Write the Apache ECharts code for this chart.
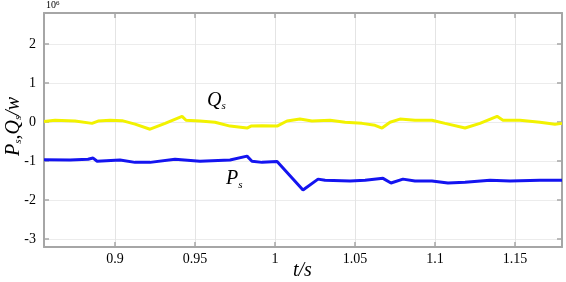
<!DOCTYPE html>
<html lang="en">
<head>
    <meta charset="UTF-8">
    <title>Ps Qs</title>
    <script src="https://cdn.jsdelivr.net/npm/echarts@6/dist/echarts.min.js"></script>
    <style>
        html, body { margin: 0; padding: 0; background: #fff; }
        #chart { width: 566px; height: 282px; }
    </style>
</head>
<body>
    <div id="chart"></div>
<script>
    // time axis (s) and values (x10^6 W)
    var qTime = [0.8556, 0.8625, 0.875, 0.8856, 0.8894, 0.8969, 0.9044, 0.9125, 0.9219, 0.9313,
        0.9419, 0.9444, 0.9531, 0.9625, 0.9719, 0.9825, 0.985, 0.9919, 1.0013, 1.0075,
        1.0156, 1.0231, 1.0344, 1.0438, 1.0544, 1.0625, 1.0669, 1.0719, 1.0781, 1.0875,
        1.0981, 1.1063, 1.1188, 1.1281, 1.1388, 1.1425, 1.1531, 1.1656, 1.175, 1.1794];
    var qValues = [0.02, 0.05, 0.03, -0.03, 0.03, 0.05, 0.04, -0.05, -0.18, -0.03,
        0.15, 0.05, 0.03, 0, -0.1, -0.15, -0.1, -0.09, -0.1, 0.03,
        0.08, 0.03, 0.05, 0, -0.03, -0.08, -0.15, 0, 0.08, 0.05,
        0.05, -0.03, -0.15, -0.03, 0.15, 0.05, 0.05, 0, -0.05, -0.03];

    var pTime = [0.8556, 0.8719, 0.8831, 0.8863, 0.8888, 0.9031, 0.9125, 0.9219, 0.9375, 0.9531,
        0.9719, 0.9825, 0.9856, 0.9919, 1.0013, 1.0175, 1.0269, 1.0313, 1.0469, 1.0563,
        1.0675, 1.0725, 1.08, 1.0875, 1.0981, 1.1081, 1.1188, 1.1344, 1.1469, 1.1656, 1.1794];
    var pValues = [-0.96, -0.97, -0.95, -0.92, -1.0, -0.97, -1.03, -1.03, -0.95, -1.0,
        -0.97, -0.87, -1.0, -1.03, -1.01, -1.74, -1.46, -1.49, -1.51, -1.49,
        -1.44, -1.56, -1.46, -1.51, -1.51, -1.56, -1.54, -1.49, -1.51, -1.49, -1.49];

    var xTicks = [0.9, 0.95, 1, 1.05, 1.1, 1.15];
    var yTicks = [-3, -2, -1, 0, 1, 2];

    function pairs(t, v) {
        var out = [];
        for (var i = 0; i < t.length; i++) {
            out.push([t[i], v[i]]);
        }
        return out;
    }

    var serif = '"Liberation Serif", "DejaVu Serif", serif';
    var boxLine = { show: true, onZero: false, lineStyle: { color: '#a6a6a6', width: 2 } };
    var inTick = { show: true, inside: true, length: 5, lineStyle: { color: '#a6a6a6', width: 1.5 } };
    // italic letter + small subscript
    var subRich = function (pad) {
        return {
            i: { fontFamily: serif, fontStyle: 'italic', fontSize: 20 },
            s: { fontFamily: serif, fontStyle: 'italic', fontSize: 11, padding: [pad, 0, 0, 0] }
        };
    };

    var myChart = echarts.init(document.getElementById('chart'));
    var option = {
        animation: false,
        grid: { left: 44, right: 4, top: 13, bottom: 35 },
        xAxis: [{
            type: 'value', min: 0.8556, max: 1.1794,
            axisLine: boxLine,
            axisTick: Object.assign({ customValues: xTicks }, inTick),
            axisLabel: { customValues: xTicks, color: '#000', fontFamily: serif, fontSize: 14, margin: 5 },
            splitLine: { show: true, lineStyle: { color: '#e4e4e4', width: 1 } }
        }, {
            type: 'value', min: 0.8556, max: 1.1794, position: 'top',
            axisLine: boxLine,
            axisTick: Object.assign({ customValues: xTicks }, inTick),
            axisLabel: { show: false },
            splitLine: { show: false }
        }],
        yAxis: [{
            type: 'value', min: -3.2, max: 2.8,
            axisLine: boxLine,
            axisTick: Object.assign({ customValues: yTicks }, inTick),
            axisLabel: { customValues: yTicks, color: '#000', fontFamily: serif, fontSize: 14, margin: 8 },
            splitLine: { show: true, lineStyle: { color: '#ececec', width: 1 } }
        }, {
            type: 'value', min: -3.2, max: 2.8, position: 'right',
            axisLine: boxLine,
            axisTick: Object.assign({ customValues: yTicks }, inTick),
            axisLabel: { show: false },
            splitLine: { show: false }
        }],
        series: [{
            name: 'Qs', type: 'line', showSymbol: false,
            data: pairs(qTime, qValues),
            lineStyle: { color: '#f2f200', width: 3 }
        }, {
            name: 'Ps', type: 'line', showSymbol: false,
            data: pairs(pTime, pValues),
            lineStyle: { color: '#1414f0', width: 3 }
        }],
        graphic: [{
            type: 'text', left: 46, top: 0,
            style: {
                text: '{b|10}{s|6}', fill: '#000',
                rich: { b: { fontFamily: serif, fontSize: 10 }, s: { fontFamily: serif, fontSize: 7, verticalAlign: 'top', padding: [0, 0, 4, 0] } }
            }
        }, {
            type: 'text', x: 4, y: 156, rotation: Math.PI / 2,
            style: { text: '{i|P}{s|s}{i|,}{i|Q}{s|s}{i|/w}', fill: '#000', rich: subRich(9) }
        }, {
            type: 'text', left: 293, top: 261,
            style: { text: 't/s', fill: '#000', font: 'italic 20px "Liberation Serif"' }
        }, {
            type: 'text', left: 207, top: 91,
            style: { text: '{i|Q}{s|s}', fill: '#000', rich: subRich(11) }
        }, {
            type: 'text', left: 226, top: 169,
            style: { text: '{i|P}{s|s}', fill: '#000', rich: subRich(13) }
        }]
    };
    myChart.setOption(option);
</script>
</body>
</html>
